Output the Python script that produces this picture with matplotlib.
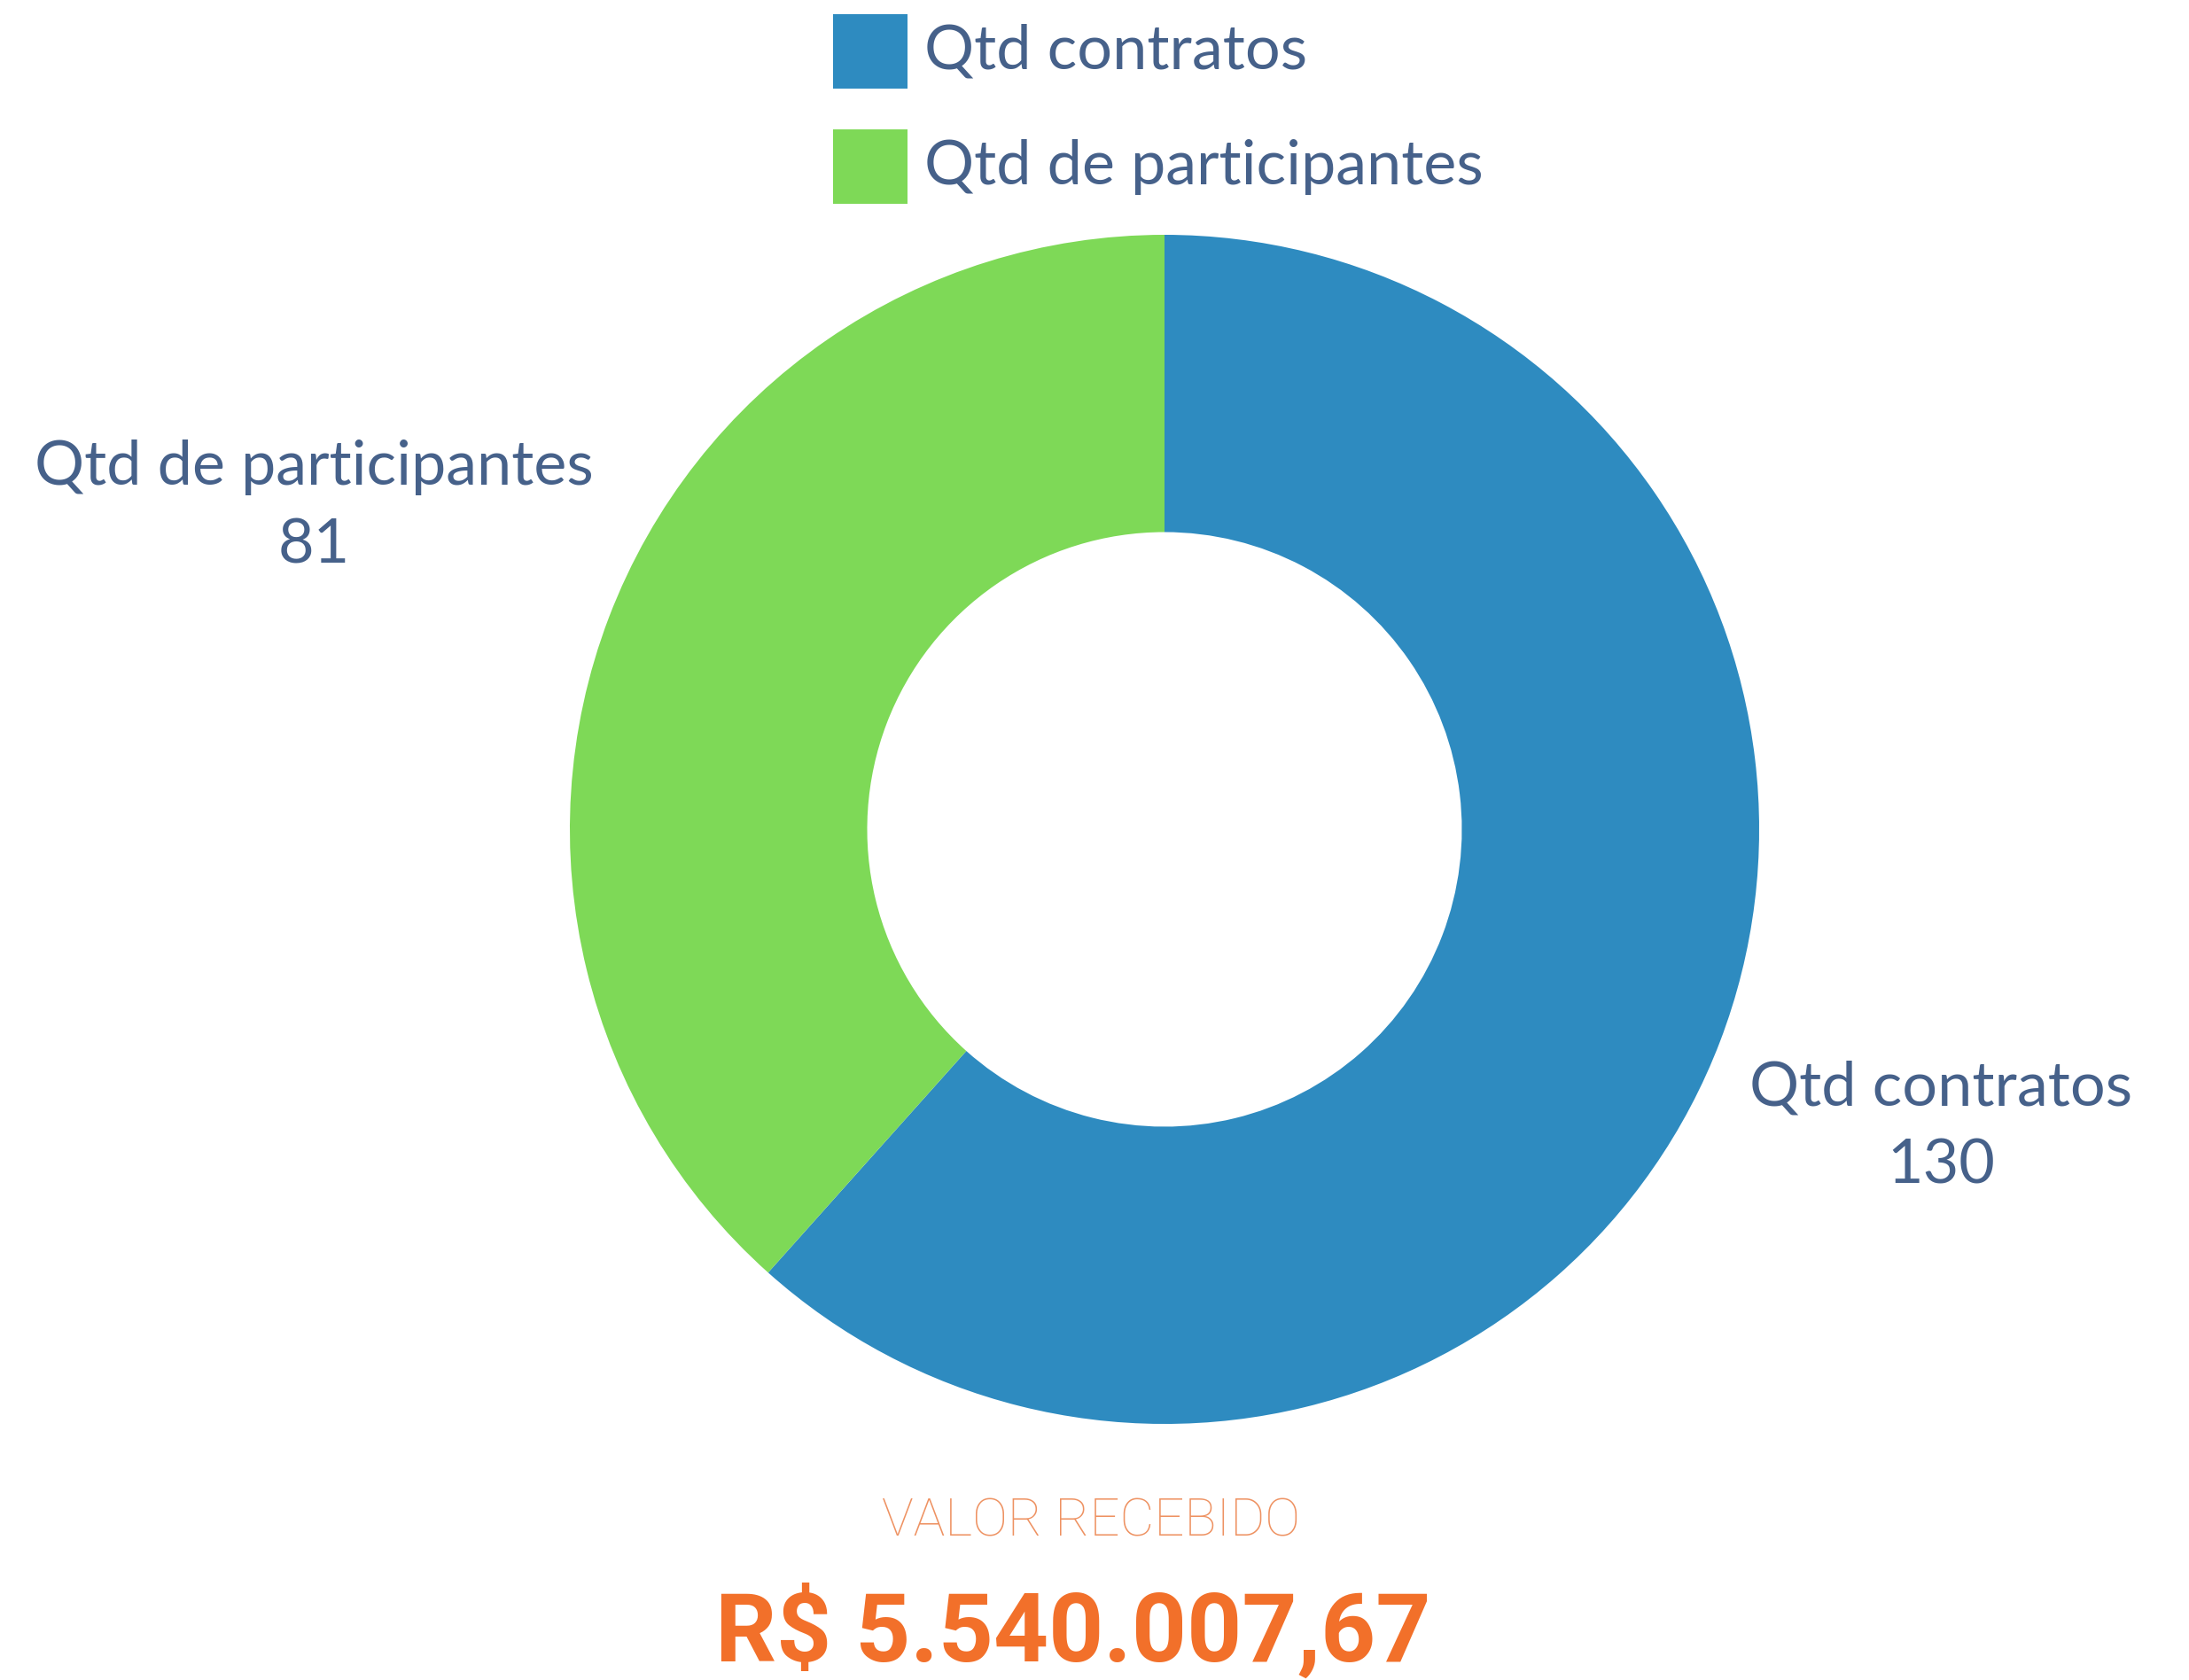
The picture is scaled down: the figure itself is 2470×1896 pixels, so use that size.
import matplotlib.pyplot as plt
from matplotlib.patches import Rectangle

# dados
categorias = ["Qtd contratos", "Qtd de participantes"]
valores = [130, 81]
cores = ["#2E8BC0", "#7ED957"]
titulo_valor = "VALOR RECEBIDO"
valor_recebido = "R$ 5.540.007,67"

W, H = 2470, 1896
texto_cor = "#46618A"
laranja = "#F2702A"

fig = plt.figure(figsize=(W / 100, H / 100), dpi=100)
ax = fig.add_axes([0, 0, 1, 1])
ax.set_xlim(0, W)
ax.set_ylim(0, H)
ax.set_aspect("equal")
ax.axis("off")

# donut
cx, cy, r = 1314, H - 936, 671
wedges, _ = ax.pie(valores, colors=cores, startangle=90, counterclock=False,
                   center=(cx, cy), radius=r,
                   wedgeprops=dict(width=r * 0.5, linewidth=0))
ax.set_xlim(0, W)
ax.set_ylim(0, H)

# rotulos das fatias
ax.text(2190, H - 1272, f"{categorias[0]}\n{valores[0]}", ha="center", va="center",
        fontsize=50.5, family="Lato", color=texto_cor, linespacing=1.5)
ax.text(354, H - 572, f"{categorias[1]}\n{valores[1]}", ha="center", va="center",
        fontsize=50.5, family="Lato", color=texto_cor, linespacing=1.5)

# legenda
for i, (cat, cor) in enumerate(zip(categorias, cores)):
    y0 = 16 + i * 130
    ax.add_patch(Rectangle((940, H - y0 - 84), 84, 84, color=cor, linewidth=0))
    ax.text(1043, H - y0 - 42, cat, ha="left", va="center",
            fontsize=50.5, family="Lato", color=texto_cor)

# valor recebido
ax.text(1231, H - 1717, titulo_valor, ha="center", va="center",
        fontsize=43, family="Roboto", fontweight="light", color="#EE9262")
ax.text(1211, H - 1843, valor_recebido, ha="center", va="center",
        fontsize=78, family="Roboto", fontweight="bold", color=laranja)

fig.savefig("out.png", dpi=100, facecolor="white")
